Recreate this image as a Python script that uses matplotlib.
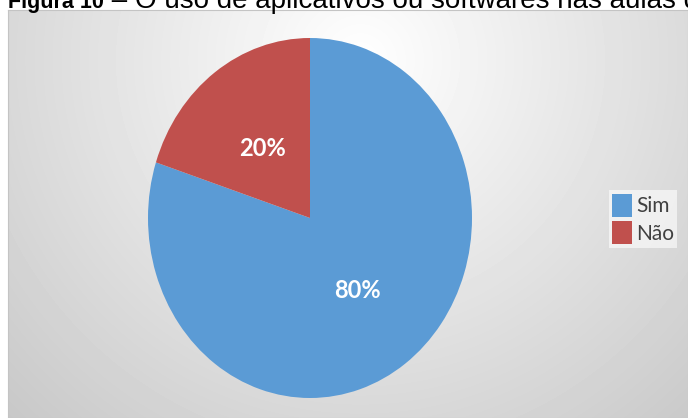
import matplotlib.pyplot as plt
import numpy as np

labels = ['Sim', 'Não']
values = [80, 20]
colors = ['#5B9BD5', '#C0504D']
title_bold = 'Figura 10'
title_rest = ' – O uso de aplicativos ou softwares nas aulas de'

W, H = 688, 418
fig = plt.figure(figsize=(W / 100, H / 100), dpi=100)
fig.patch.set_facecolor('white')

# chart area with a radial gray gradient
x0, y0 = 8, 10
bg = fig.add_axes([x0 / W, 0, (W - x0) / W, (H - y0) / H])
yy, xx = np.mgrid[y0:H, x0:W]
d = np.hypot(xx - 360, yy - 60)
shade = np.clip(255 - 0.11 * d, 190, 255) / 255
bg.imshow(shade, cmap='gray', vmin=0, vmax=1, aspect='auto', interpolation='bilinear')
bg.set_xticks([])
bg.set_yticks([])
for s in bg.spines.values():
    s.set_color('#c4c4c4')
    s.set_linewidth(0.8)

# pie, slightly stretched vertically
cx, cy, rx, ry = 310, 218, 162, 180
ax = fig.add_axes([(cx - rx) / W, (H - cy - ry) / H, 2 * rx / W, 2 * ry / H])
wedges, texts, autotexts = ax.pie(values, colors=colors, startangle=90, counterclock=False,
                                  autopct='%1.0f%%', pctdistance=0.5,
                                  wedgeprops=dict(linewidth=0),
                                  textprops=dict(color='white', fontsize=17, fontweight='bold',
                                                 family='Lato'))
autotexts[1].set_y(autotexts[1].get_position()[1] - 0.02)
ax.set_aspect('auto')
ax.set_xlim(-1, 1)
ax.set_ylim(-1, 1)
ax.axis('off')

leg = fig.legend(wedges, labels, loc='center left', bbox_to_anchor=(609 / W, (H - 219) / H),
                 frameon=True, fancybox=False, framealpha=0.6, edgecolor='none',
                 facecolor='white', handlelength=0.95, handleheight=1.35, handletextpad=0.2,
                 labelspacing=0.2, borderpad=0.15, borderaxespad=0,
                 prop=dict(family='Lato', size=15))
for t in leg.get_texts():
    t.set_color('#404040')

# title: bold label followed by regular text, clipped by the top edge
t1 = fig.text(x0 / W, (H - 8) / H, title_bold, fontsize=15.5, fontweight='bold',
              family='Liberation Sans', va='baseline')
fig.canvas.draw()
bb = t1.get_window_extent()
fig.text(bb.x1 / W, (H - 8) / H, title_rest, fontsize=20,
         family='Liberation Sans', va='baseline')

fig.savefig('out.png', dpi=100)
